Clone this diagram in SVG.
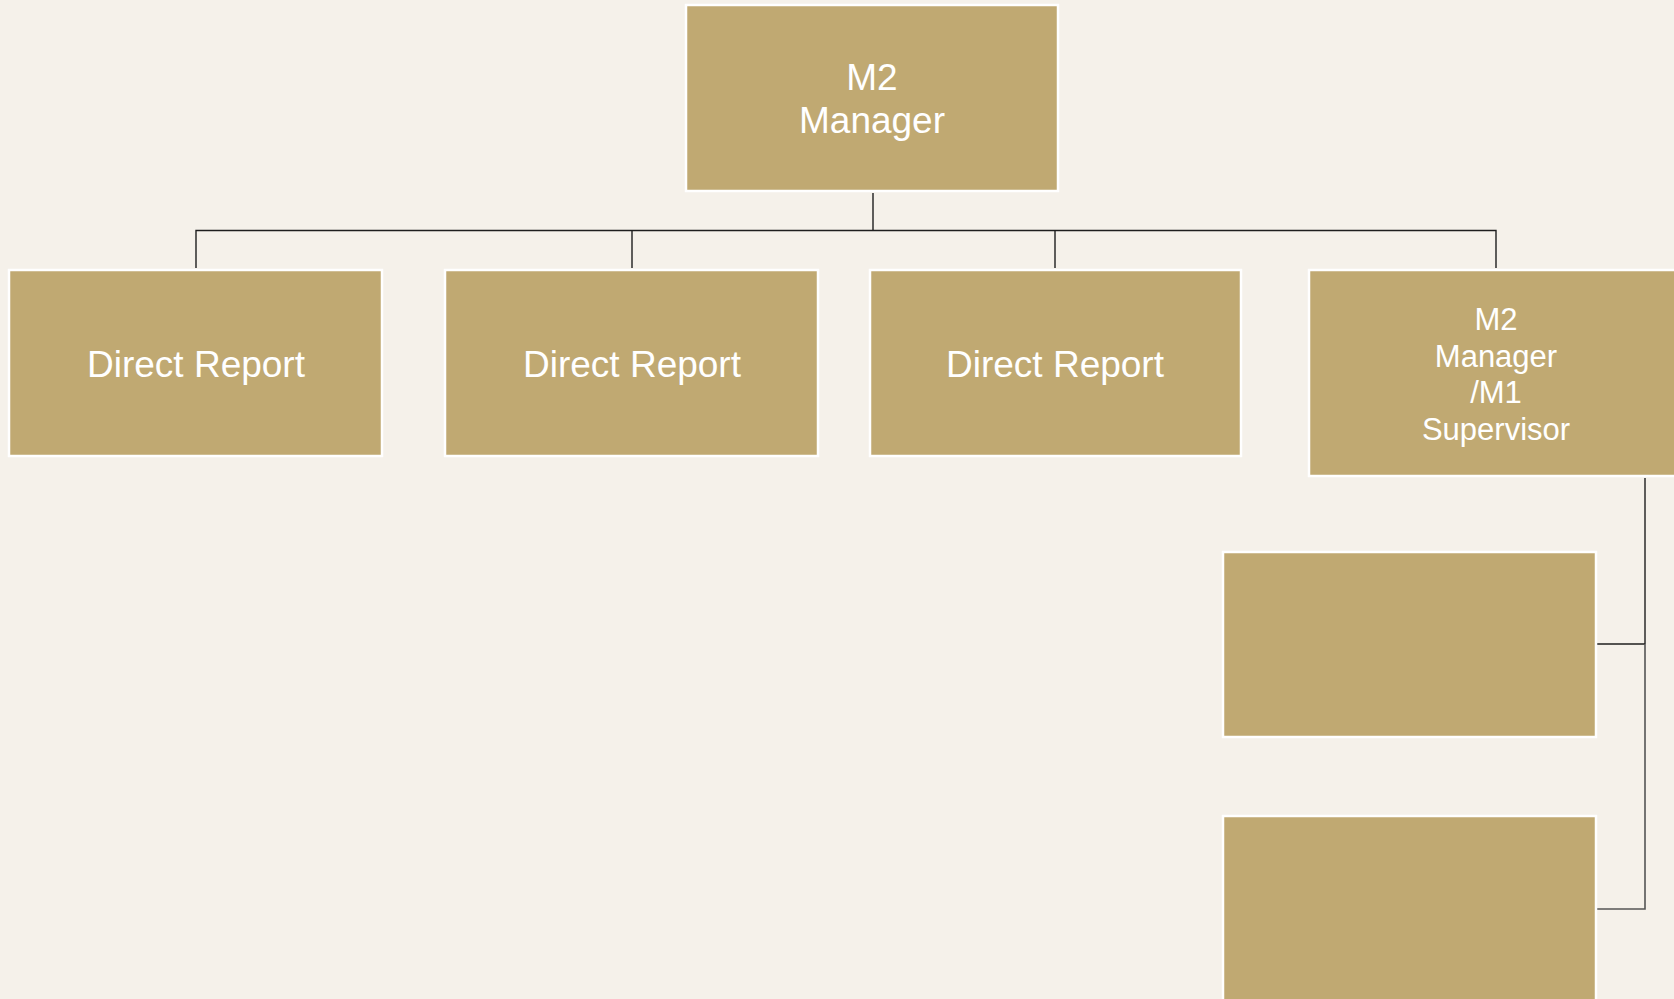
<svg xmlns="http://www.w3.org/2000/svg" width="1674" height="999" viewBox="0 0 1674 999">
<style>
.box{fill:#C0A972;stroke:#FFFFFF;stroke-width:2.5}
.t{font-family:"Liberation Sans",Arial,sans-serif;fill:#FFFFFF;text-anchor:middle}
.big{font-size:37px}
.small{font-size:31px}
.ln{stroke:#1E1E1E;stroke-width:1.4;fill:none}
.ln2{stroke:#555555;stroke-width:1.6;fill:none}
</style>
<rect width="1674" height="999" fill="#F5F1EA"/>
<g id="connectors">
<line class="ln" x1="873" y1="193" x2="873" y2="230.5"/>
<polyline class="ln" points="196,268 196,230.5 1496,230.5 1496,268"/>
<line class="ln" x1="632" y1="230.5" x2="632" y2="268"/>
<line class="ln" x1="1055" y1="230.5" x2="1055" y2="268"/>
<line class="ln" x1="1645" y1="478" x2="1645" y2="644"/>
<line class="ln" x1="1597" y1="644" x2="1645" y2="644"/>
<polyline class="ln2" points="1645,644 1645,909 1597,909"/>
</g>
<g id="m2-manager">
<rect class="box" x="686" y="5" width="372" height="186"/>
<text class="t big" x="872" y="90">M2</text>
<text class="t big" x="872" y="133">Manager</text>
</g>
<g id="direct-report-1">
<rect class="box" x="9" y="270" width="373" height="186"/>
<text class="t big" x="196" y="377">Direct Report</text>
</g>
<g id="direct-report-2">
<rect class="box" x="445" y="270" width="373" height="186"/>
<text class="t big" x="632" y="377">Direct Report</text>
</g>
<g id="direct-report-3">
<rect class="box" x="870" y="270" width="371" height="186"/>
<text class="t big" x="1055" y="377">Direct Report</text>
</g>
<g id="m2-m1-supervisor">
<rect class="box" x="1309" y="270" width="380" height="206"/>
<text class="t small" x="1496" y="330">M2</text>
<text class="t small" x="1496" y="367">Manager</text>
<text class="t small" x="1496" y="403">/M1</text>
<text class="t small" x="1496" y="440">Supervisor</text>
</g>
<g id="sub-1">
<rect class="box" x="1223" y="552" width="373" height="185"/>
</g>
<g id="sub-2">
<rect class="box" x="1223" y="816" width="373" height="200"/>
</g>
</svg>
